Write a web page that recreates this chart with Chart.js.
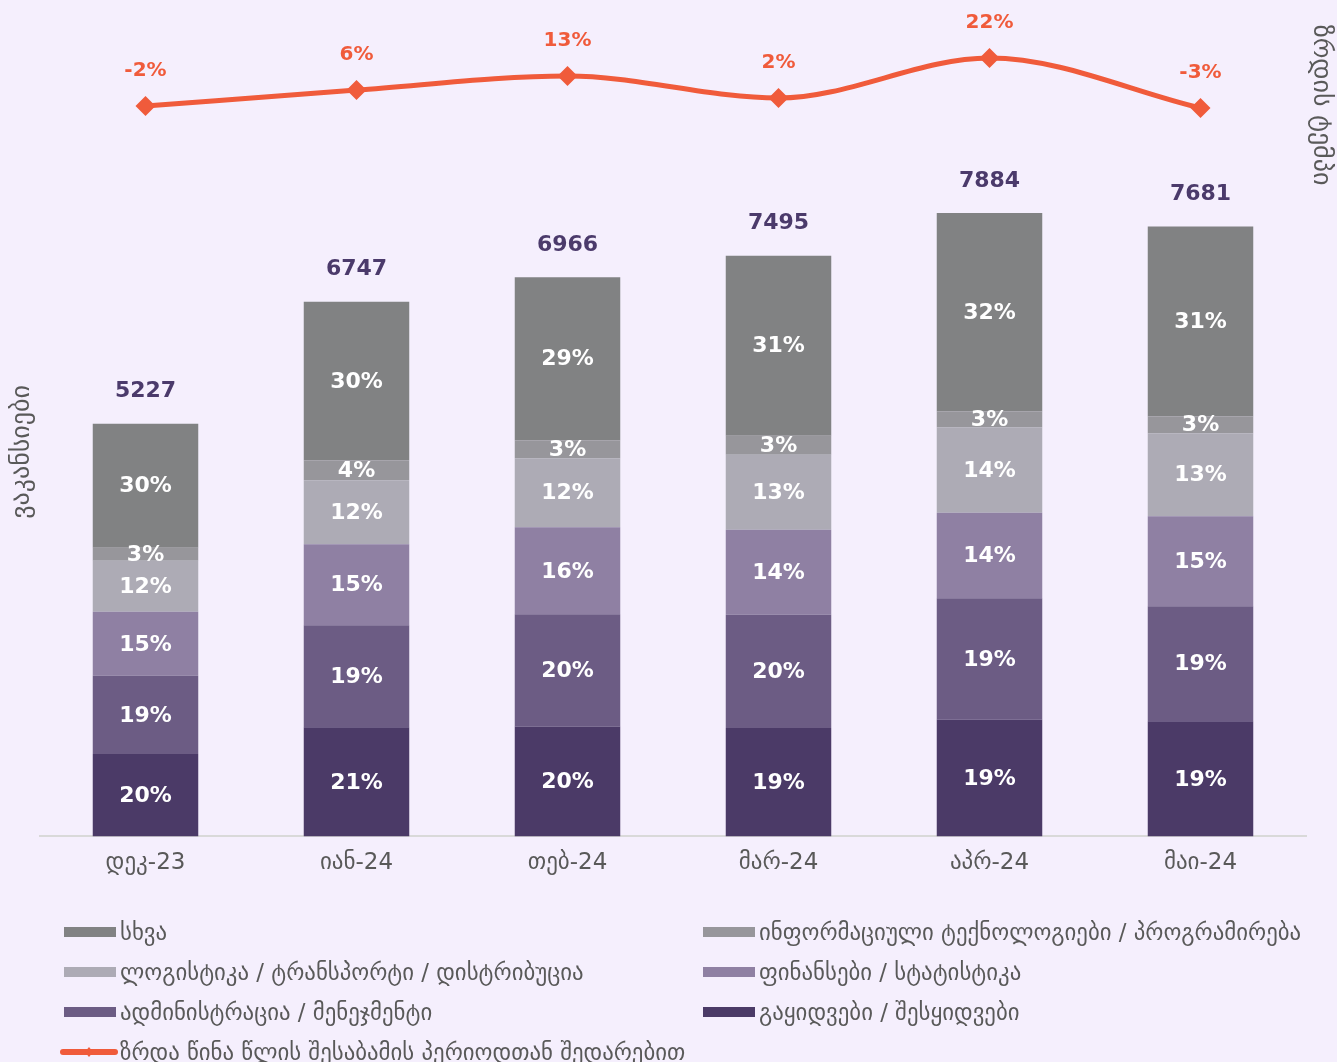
<!DOCTYPE html>
<html><head><meta charset="utf-8">
<script src="https://cdn.jsdelivr.net/npm/chart.js@4.4.1/dist/chart.umd.min.js"></script>
<style>
html,body{margin:0;padding:0;background:#F5EFFD;}
#wrap{position:relative;width:1337px;height:1062px;overflow:hidden;}
canvas{position:absolute;left:0;top:0;}
#legend{position:absolute;left:0;top:0;width:1337px;height:1062px;font-family:'DejaVu Sans';font-size:22.8px;color:#595959;}
.item{position:absolute;display:flex;align-items:center;white-space:nowrap;height:30px;}
.sw{width:52px;height:10px;margin-right:4px;flex:none;}
</style></head>
<body>
<div id="wrap"><canvas id="c" width="1337" height="1062"></canvas><div id="legend"></div></div>
<script>
// ---- data ----
const categories = ['დეკ-23','იან-24','თებ-24','მარ-24','აპრ-24','მაი-24'];
const totals = [5227, 6747, 6966, 7495, 7884, 7681];
const growth = [-2, 6, 13, 2, 22, -3];

// vacancy counts per sector (bottom of stack first)
const sales     = [1044, 1380, 1392, 1373, 1475, 1456];
const admin     = [987, 1291, 1418, 1430, 1538, 1456];
const finance   = [810, 1025, 1101, 1076, 1082, 1139];
const logistics = [646, 810, 873, 949, 1082, 1051];
const itProg    = [165, 253, 228, 241, 203, 215];
const other     = [1570, 2006, 2063, 2278, 2506, 2399];

// share labels (%) as shown
const salesPct     = [20, 21, 20, 19, 19, 19];
const adminPct     = [19, 19, 20, 20, 19, 19];
const financePct   = [15, 15, 16, 14, 14, 15];
const logisticsPct = [12, 12, 12, 13, 14, 13];
const itPct        = [3, 4, 3, 3, 3, 3];
const otherPct     = [30, 30, 29, 31, 32, 31];

const seriesNames = ['გაყიდვები / შესყიდვები','ადმინისტრაცია / მენეჯმენტი','ფინანსები / სტატისტიკა','ლოგისტიკა / ტრანსპორტი / დისტრიბუცია','ინფორმაციული ტექნოლოგიები / პროგრამირება','სხვა'];
const lineName = 'ზრდა წინა წლის შესაბამის პერიოდთან შედარებით';
const yTitle = 'ვაკანსიები';
const y1Title = 'ზრდის ტემპი';

// ---- styles ----
const FONT = "'DejaVu Sans'";
const colors = ['#4B3A67','#6C5C84','#8F80A3','#ADABB5','#97969B','#818283'];
const lineColor = '#F05B3B';

const barValues = [sales, admin, finance, logistics, itProg, other];
const barPcts = [salesPct, adminPct, financePct, logisticsPct, itPct, otherPct];

const datasets = barValues.map((v, i) => ({
  type: 'bar', label: seriesNames[i], data: v, backgroundColor: colors[i],
  yAxisID: 'y', stack: 's', order: 2, categoryPercentage: 1, barPercentage: 0.5, borderWidth: 0
}));
datasets.push({
  type: 'line', label: lineName, data: growth, yAxisID: 'y1', order: 1,
  borderColor: lineColor, backgroundColor: lineColor, borderWidth: 5,
  cubicInterpolationMode: 'monotone', pointStyle: 'rectRot', pointRadius: 10,
  pointBorderWidth: 0, pointBackgroundColor: lineColor
});

const labelPlugin = {
  id: 'labels',
  afterDatasetsDraw(chart) {
    const ctx = chart.ctx;
    ctx.save();
    ctx.textAlign = 'center'; ctx.textBaseline = 'middle';
    ctx.font = 'bold 22px ' + FONT;
    ctx.fillStyle = '#FFFFFF';
    barPcts.forEach((p, di) => {
      chart.getDatasetMeta(di).data.forEach((bar, i) => {
        ctx.fillText(p[i] + '%', bar.x, (bar.y + bar.base) / 2 + 1);
      });
    });
    ctx.fillStyle = '#4B3A6B';
    chart.getDatasetMeta(barValues.length - 1).data.forEach((bar, i) => {
      ctx.fillText(String(totals[i]), bar.x, bar.y - 32);
    });
    ctx.font = 'bold 20px ' + FONT;
    ctx.fillStyle = lineColor;
    chart.getDatasetMeta(barValues.length).data.forEach((pt, i) => {
      ctx.fillText(growth[i] + '%', pt.x, pt.y - 35);
    });
    ctx.restore();
  },
  afterDraw(chart) {
    const ctx = chart.ctx;
    ctx.save();
    ctx.font = '26px ' + FONT; ctx.fillStyle = '#595959';
    ctx.textAlign = 'center'; ctx.textBaseline = 'middle';
    ctx.translate(22, 452); ctx.rotate(-Math.PI / 2); ctx.fillText(yTitle, 0, 0);
    ctx.restore();
    ctx.save();
    ctx.font = '26px ' + FONT; ctx.fillStyle = '#595959';
    ctx.textAlign = 'center'; ctx.textBaseline = 'middle';
    ctx.translate(1321, 105); ctx.rotate(Math.PI / 2); ctx.fillText(y1Title, 0, 0);
    ctx.restore();
  }
};

const chart = new Chart(document.getElementById('c'), {
  data: { labels: categories, datasets },
  options: {
    responsive: false, animation: false, devicePixelRatio: 1,
    layout: { padding: { left: 40, right: 31, top: 11, bottom: 172 } },
    plugins: { legend: { display: false }, tooltip: { enabled: false } },
    scales: {
      x: { stacked: true, grid: { display: false, drawTicks: false },
           border: { color: '#D9D9D9', width: 2 },
           ticks: { color: '#595959', font: { family: FONT, size: 23 }, padding: 13 } },
      y: { stacked: true, display: false, min: 0, max: 10443 },
      y1: { display: false, min: -367, max: 45.5 }
    }
  },
  plugins: [labelPlugin]
});

// ---- HTML legend built from chart datasets ----
const leg = document.getElementById('legend');
const order = [5, 4, 3, 2, 1, 0, 6];
const colX = [64, 703], rowY = [932, 972, 1012, 1052];
order.forEach((di, k) => {
  const ds = chart.data.datasets[di];
  const el = document.createElement('div');
  el.className = 'item';
  const col = k % 2, row = Math.floor(k / 2);
  el.style.top = (rowY[row] - 15) + 'px';
  if (ds.type === 'line') {
    el.style.left = (colX[col] - 4) + 'px';
    el.innerHTML = '<svg width="58" height="16" style="margin-right:2px;flex:none"><line x1="3" y1="8" x2="55" y2="8" stroke="' + ds.borderColor + '" stroke-width="6" stroke-linecap="round"/><polygon points="29,3 33,8 29,13 25,8" fill="' + ds.borderColor + '"/></svg>';
  } else {
    el.style.left = colX[col] + 'px';
    el.innerHTML = '<div class="sw" style="background:' + ds.backgroundColor + '"></div>';
  }
  const t = document.createElement('span');
  t.textContent = ds.label;
  el.appendChild(t);
  leg.appendChild(el);
});
</script>
</body></html>
